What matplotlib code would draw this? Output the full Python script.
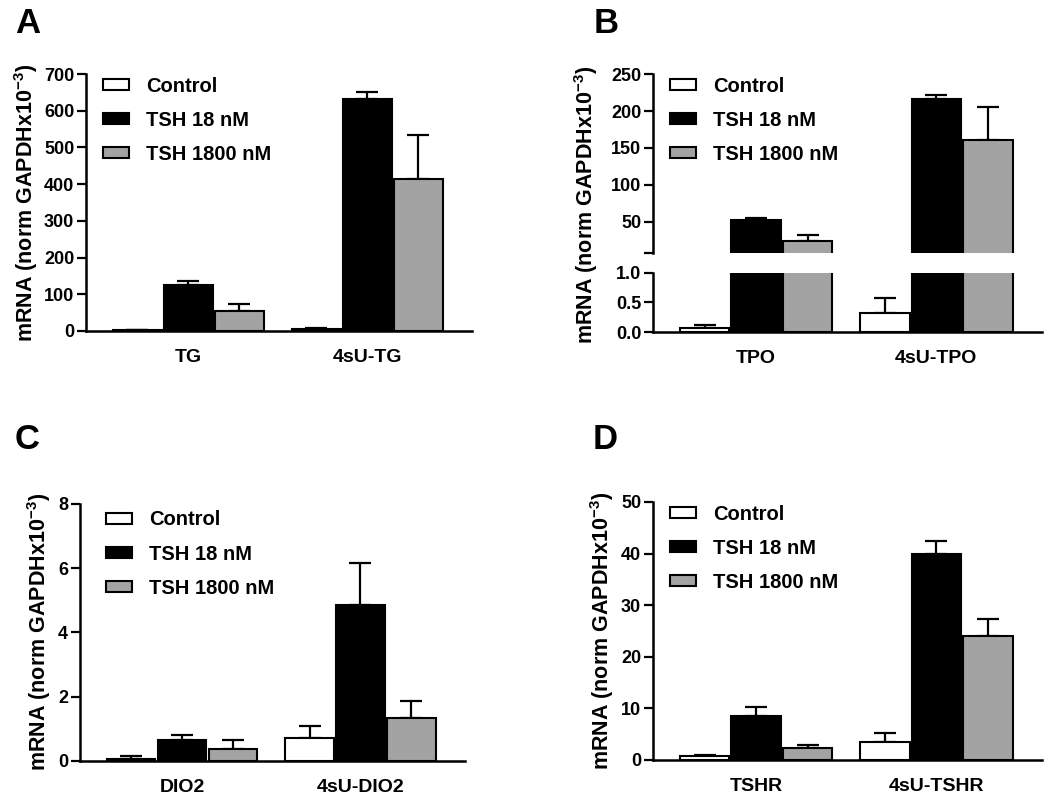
import numpy as np
import matplotlib
matplotlib.use("Agg")
import matplotlib.pyplot as plt
from matplotlib.ticker import FormatStrFormatter

plt.rcParams["font.family"] = ["Liberation Sans", "DejaVu Sans"]
plt.rcParams["font.weight"] = "bold"
plt.rcParams["mathtext.fontset"] = "custom"
plt.rcParams["mathtext.rm"] = "Liberation Sans:bold"
plt.rcParams["mathtext.bf"] = "Liberation Sans:bold"
plt.rcParams["mathtext.default"] = "rm"

# series order: Control, TSH 18 nM, TSH 1800 nM
series_names = ["Control", "TSH 18 nM", "TSH 1800 nM"]
series_colors = ["white", "black", "#a3a3a3"]

# panel A
tg_labels = ["TG", "4sU-TG"]
tg_mean = [[2, 5], [125, 632], [55, 413]]
tg_err = [[1, 3], [12, 20], [18, 120]]

# panel B
tpo_labels = ["TPO", "4sU-TPO"]
tpo_mean = [[0.07, 0.33], [52, 216], [24, 161]]
tpo_err = [[0.05, 0.24], [3, 5], [8, 44]]

# panel C
dio2_labels = ["DIO2", "4sU-DIO2"]
dio2_mean = [[0.05, 0.72], [0.65, 4.85], [0.35, 1.32]]
dio2_err = [[0.1, 0.35], [0.15, 1.3], [0.28, 0.55]]

# panel D
tshr_labels = ["TSHR", "4sU-TSHR"]
tshr_mean = [[0.7, 3.4], [8.5, 40], [2.4, 24]]
tshr_err = [[0.3, 1.8], [1.8, 2.5], [0.6, 3.3]]

ylabel = r"mRNA (norm GAPDHx10$^{-3}$)"
TICK_FS = 13
XLAB_FS = 14
LEG_FS = 14.5
YLAB_FS = 15.5
GROUP_GAP = 3.5
BAR_W = 0.96


def style_axis(ax):
    for s in ["top", "right"]:
        ax.spines[s].set_visible(False)
    for s in ["left", "bottom"]:
        ax.spines[s].set_linewidth(1.8)
    ax.tick_params(axis="y", length=6.5, width=1.6, pad=2, labelsize=TICK_FS)
    ax.tick_params(axis="x", length=0, pad=13, labelsize=XLAB_FS)
    ax.set_xlim(-2.0, 5.55)
    for lab in ax.get_yticklabels() + ax.get_xticklabels():
        lab.set_fontweight("bold")


def draw_bars(ax, means, errs, labels):
    centers = np.arange(len(labels)) * GROUP_GAP
    handles = []
    for i in range(3):
        x = centers + (i - 1)
        ax.errorbar(x, means[i], yerr=[np.zeros(len(x)), errs[i]], fmt="none",
                    ecolor="black", elinewidth=1.6, capsize=8, capthick=1.6, zorder=1)
        b = ax.bar(x, means[i], width=BAR_W, color=series_colors[i],
                   edgecolor="black", linewidth=1.5, zorder=2, label=series_names[i])
        handles.append(b)
    ax.set_xticks(centers)
    ax.set_xticklabels(labels)
    return handles


def add_legend(ax, handles, x, y):
    ax.legend(handles=handles, loc="upper left", bbox_to_anchor=(x, y),
              frameon=False, borderpad=0, borderaxespad=0,
              handlelength=1.3, handleheight=0.5, handletextpad=0.85,
              labelspacing=0.75, prop={"weight": "bold", "size": LEG_FS})


fig = plt.figure(figsize=(10.5, 8.01), dpi=100)

# A
axA = fig.add_axes([0.0819, 0.5868, 0.3676, 0.3208])
h = draw_bars(axA, tg_mean, tg_err, tg_labels)
axA.set_ylim(0, 700)
axA.set_yticks(range(0, 701, 100))
style_axis(axA)
axA.set_ylabel(ylabel, fontsize=YLAB_FS, fontweight="bold", labelpad=3)
add_legend(axA, h, 0.044, 0.99)

# B (broken axis)
axBt = fig.add_axes([0.6219, 0.6841, 0.3705, 0.2235])
axBb = fig.add_axes([0.6219, 0.5855, 0.3705, 0.0737])
h = draw_bars(axBt, tpo_mean, tpo_err, tpo_labels)
draw_bars(axBb, tpo_mean, tpo_err, tpo_labels)
axBt.set_ylim(8, 250)
axBt.set_yticks([8, 50, 100, 150, 200, 250])
axBt.set_yticklabels(["", "50", "100", "150", "200", "250"])
axBb.set_ylim(0, 1.0)
axBb.set_yticks([0, 0.5, 1.0])
axBb.yaxis.set_major_formatter(FormatStrFormatter("%.1f"))
style_axis(axBt)
style_axis(axBb)
axBt.spines["bottom"].set_visible(False)
axBt.set_xticks([])
axBb.set_xticks(np.arange(2) * GROUP_GAP)
axBb.set_xticklabels(tpo_labels)
for lab in axBb.get_xticklabels() + axBb.get_yticklabels():
    lab.set_fontweight("bold")
fig.text(0.5586, 0.744, ylabel, rotation=90, fontsize=YLAB_FS, fontweight="bold",
         ha="center", va="center")
add_legend(axBt, h, 0.044, 0.985)

# C
axC = fig.add_axes([0.0762, 0.0503, 0.3667, 0.3205])
h = draw_bars(axC, dio2_mean, dio2_err, dio2_labels)
axC.set_ylim(0, 8)
axC.set_yticks(range(0, 9, 2))
style_axis(axC)
axC.set_ylabel(ylabel, fontsize=YLAB_FS, fontweight="bold", labelpad=4)
add_legend(axC, h, 0.068, 0.975)

# D
axD = fig.add_axes([0.6219, 0.0512, 0.3705, 0.3221])
h = draw_bars(axD, tshr_mean, tshr_err, tshr_labels)
axD.set_ylim(0, 50)
axD.set_yticks(range(0, 51, 10))
style_axis(axD)
axD.set_ylabel(ylabel, fontsize=YLAB_FS, fontweight="bold", labelpad=4)
add_legend(axD, h, 0.044, 0.99)

for letter, x, y in [("A", 0.014, 0.971), ("B", 0.565, 0.971),
                     ("C", 0.014, 0.451), ("D", 0.564, 0.451)]:
    fig.text(x, y, letter, fontsize=25, fontweight="bold", ha="left", va="center")

fig.savefig("out.png", dpi=100)
